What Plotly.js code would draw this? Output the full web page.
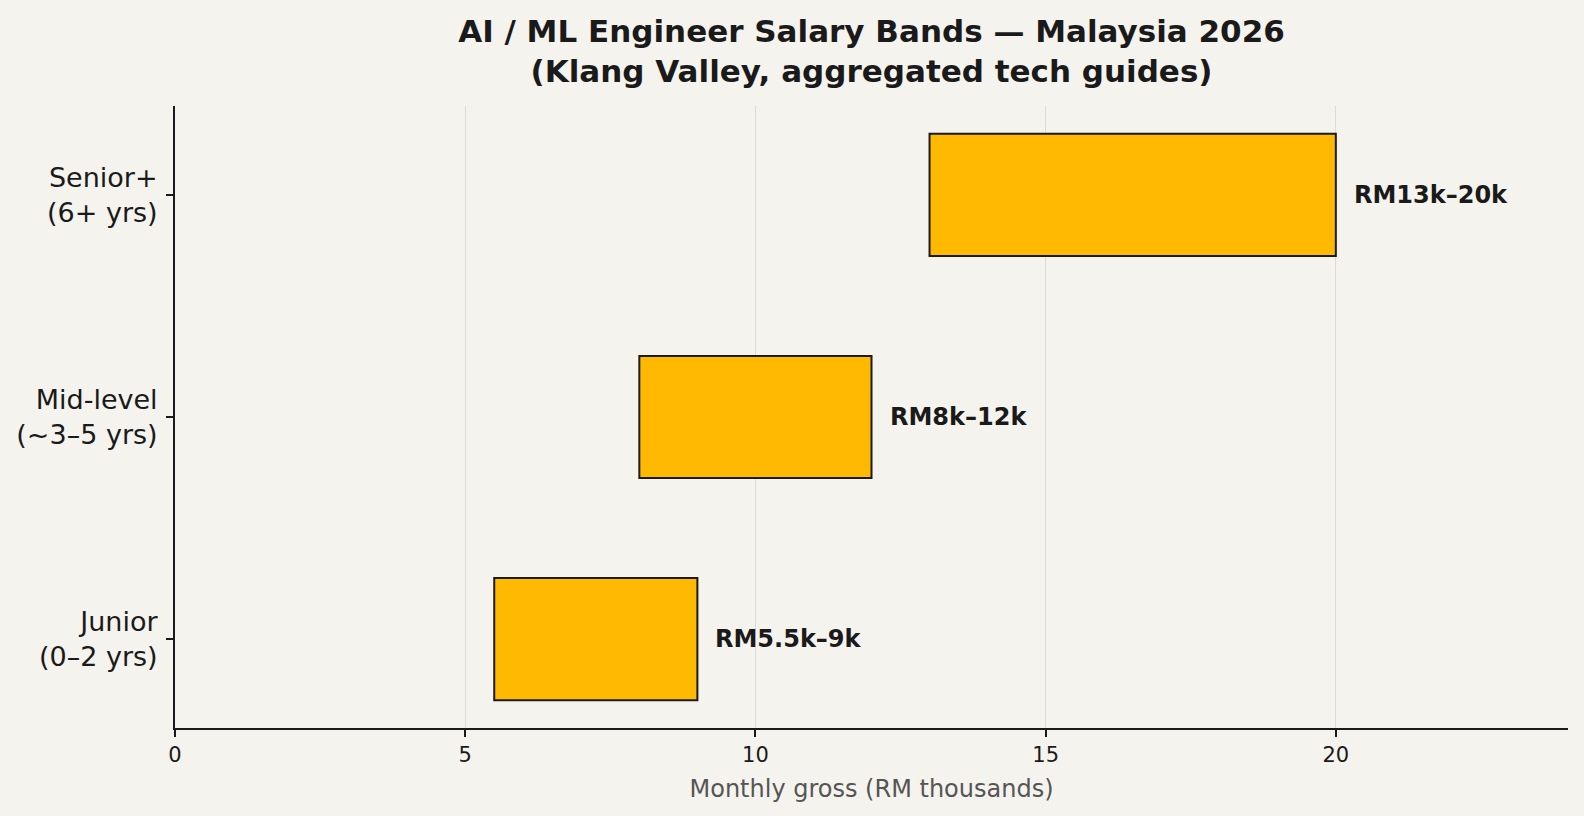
<!DOCTYPE html>
<html><head><meta charset="utf-8">
<script src="https://cdn.plot.ly/plotly-3.0.1.min.js"></script>
<style>html,body{margin:0;padding:0;background:#f5f3ee;}#chart{width:1584px;height:816px;}</style>
</head><body><div id="chart"></div>
<script>
const categories = ["Junior<br>(0–2 yrs)", "Mid-level<br>(~3–5 yrs)", "Senior+<br>(6+ yrs)"];
const lowValues = [5.5, 8, 13];
const highValues = [9, 12, 20];
const bandLabels = ["RM5.5k–9k", "RM8k–12k", "RM13k–20k"];
const xTicks = [0, 5, 10, 15, 20];

const widths = highValues.map((h, i) => h - lowValues[i]);
const yIdx = categories.map((c, i) => i);

const trace = {
  type: 'bar', orientation: 'h',
  y: yIdx, x: widths, base: lowValues,
  width: 0.55,
  marker: {color: '#ffba00', line: {color: '#1a1a1a', width: 2}},
  hoverinfo: 'skip'
};

const annotations = bandLabels.map((t, i) => ({
  x: highValues[i], y: yIdx[i], xref: 'x', yref: 'y',
  text: '<b>' + t + '</b>', showarrow: false, xanchor: 'left', xshift: 16,
  font: {family: 'DejaVu Sans', size: 24, color: '#1a1a1a'}
}));

const layout = {
  width: 1584, height: 816,
  paper_bgcolor: '#f5f3ee', plot_bgcolor: '#f5f3ee',
  margin: {l: 175, r: 16, t: 106, b: 88},
  font: {family: 'DejaVu Sans', color: '#1a1a1a'},
  title: {text: '<b>AI / ML Engineer Salary Bands — Malaysia 2026<br>(Klang Valley, aggregated tech guides)</b>',
    x: 0.5502, xanchor: 'center', y: 0.949, yanchor: 'top', font: {family: 'DejaVu Sans', size: 31, color: '#1a1a1a'}},
  xaxis: {range: [0, 24], tickvals: xTicks, ticktext: xTicks.map(String), showgrid: true, gridcolor: '#dedbd4', gridwidth: 1,
    zeroline: false, showline: true, linecolor: '#1a1a1a', linewidth: 2, ticks: 'outside', ticklen: 7, tickwidth: 1.5, tickcolor: '#1a1a1a',
    tickfont: {size: 21, color: '#1a1a1a'},
    title: {text: 'Monthly gross (RM thousands)', font: {size: 24, color: '#555555'}, standoff: 14}},
  yaxis: {range: [-0.4, 2.4], tickvals: yIdx, ticktext: categories, showgrid: false, zeroline: false,
    showline: true, linecolor: '#1a1a1a', linewidth: 2, ticks: 'outside', ticklen: 7, tickwidth: 1.5, tickcolor: '#1a1a1a',
    ticklabelstandoff: 3,
    tickfont: {size: 27, color: '#1a1a1a'}},
  showlegend: false,
  annotations: annotations
};
Plotly.newPlot('chart', [trace], layout, {displayModeBar: false});
</script></body></html>
